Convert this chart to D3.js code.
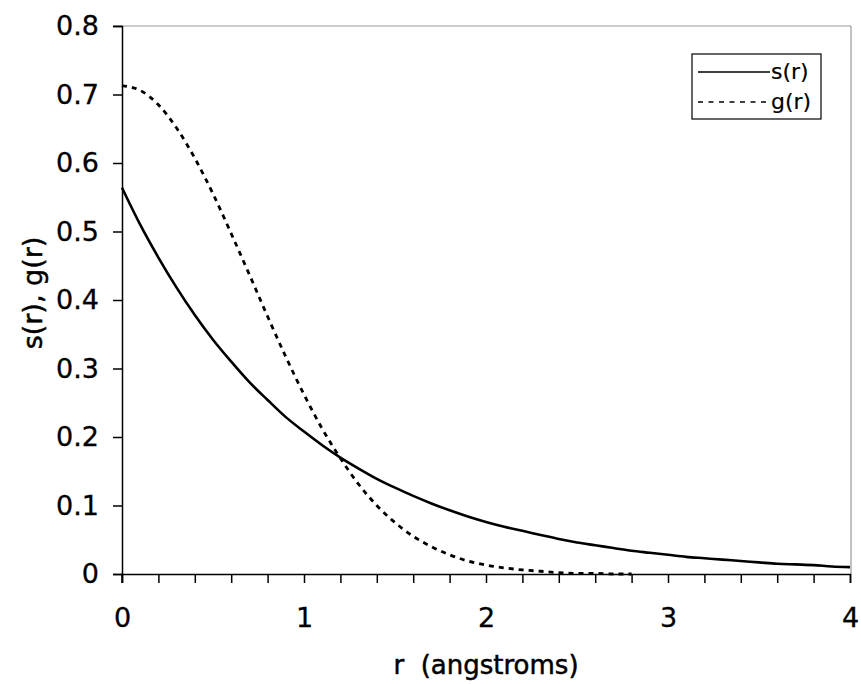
<!DOCTYPE html>
<html><head><meta charset="utf-8">
<script src="https://cdn.jsdelivr.net/npm/d3@7"></script>
<style>body{margin:0;background:#fff}</style>
</head><body>
<svg id="c" width="861" height="684"></svg>
<script>
const rS = [0,0.1,0.2,0.3,0.4,0.5,0.6,0.7,0.8,0.9,1.0,1.1,1.2,1.3,1.4,1.5,1.6,1.7,1.8,1.9,2.0,2.1,2.2,2.3,2.4,2.5,2.6,2.7,2.8,2.9,3.0,3.1,3.2,3.3,3.4,3.5,3.6,3.7,3.8,3.9,4.0];
const sVals = [0.564,0.510,0.462,0.418,0.378,0.342,0.310,0.280,0.254,0.229,0.208,0.188,0.170,0.154,0.139,0.126,0.114,0.103,0.093,0.084,0.076,0.069,0.063,0.057,0.051,0.046,0.042,0.038,0.034,0.031,0.028,0.025,0.023,0.021,0.019,0.017,0.015,0.014,0.013,0.011,0.010];
const rG = [0,0.1,0.2,0.3,0.4,0.5,0.6,0.7,0.8,0.9,1.0,1.1,1.2,1.3,1.4,1.5,1.6,1.7,1.8,1.9,2.0,2.1,2.2,2.3,2.4,2.5,2.6,2.7,2.8];
const gVals = [0.713,0.706,0.685,0.651,0.607,0.555,0.497,0.437,0.376,0.317,0.262,0.212,0.169,0.131,0.100,0.075,0.055,0.040,0.028,0.019,0.013,0.009,0.006,0.004,0.002,0.001,0.001,0.000,0.000];
const xTickLabels = [0,1,2,3,4];
const xMinorTicks = d3.range(0, 4.0001, 0.2);
const yTickLabels = [0,0.1,0.2,0.3,0.4,0.5,0.6,0.7,0.8];
const seriesNames = ["s(r)","g(r)"];

const svg = d3.select("#c");
const L = 122, R = 850, T = 26, B = 574;
const x = d3.scaleLinear().domain([0,4]).range([L,R]);
const y = d3.scaleLinear().domain([0,0.8]).range([B,T]);
const font = "DejaVu Sans, Verdana, sans-serif";

// frame (top and right, grey)
svg.append("line").attr("x1",113).attr("x2",R+1).attr("y1",T).attr("y2",T).attr("stroke","#999").attr("stroke-width",1.2);
svg.append("line").attr("x1",R+1).attr("x2",R+1).attr("y1",T).attr("y2",B).attr("stroke","#999").attr("stroke-width",1.2);

// axes
const yAxis = d3.axisLeft(y).tickValues(yTickLabels).tickSize(9).tickPadding(14)
  .tickFormat(d => d===0 ? "0" : d3.format(".1f")(d));
const gy = svg.append("g").attr("transform",`translate(${L},0)`).call(yAxis);
const xAxis = d3.axisBottom(x).tickValues(xMinorTicks).tickSize(9).tickPadding(25)
  .tickFormat(d => xTickLabels.some(v=>Math.abs(v-d)<1e-6) ? d3.format("d")(Math.round(d)) : "");
const gx = svg.append("g").attr("transform",`translate(0,${B})`).call(xAxis);
[gx,gy].forEach(g=>{
  g.select(".domain").attr("stroke","#000").attr("stroke-width",1.5);
  g.selectAll(".tick line").attr("stroke","#000").attr("stroke-width",1.5);
  g.selectAll(".tick text").attr("font-family",font).attr("font-size",27).attr("fill","#000")
    .attr("stroke","#000").attr("stroke-width",0.3);
});
svg.append("line").attr("x1",L).attr("x2",L).attr("y1",B).attr("y2",B+9).attr("stroke","#000").attr("stroke-width",1.5);

// lines
const line = d3.line().curve(d3.curveMonotoneX);
svg.append("path").attr("d", line(rS.map((r,i)=>[x(r),y(sVals[i])])))
  .attr("fill","none").attr("stroke","#000").attr("stroke-width",2.6);
svg.append("path").attr("d", line(rG.map((r,i)=>[x(r),y(gVals[i])])))
  .attr("fill","none").attr("stroke","#000").attr("stroke-width",2.8).attr("stroke-dasharray","5,5");

// axis titles
svg.append("text").attr("x",486).attr("y",674).attr("text-anchor","middle")
  .attr("font-family",font).attr("font-size",26).attr("xml:space","preserve")
  .attr("stroke","#000").attr("stroke-width",0.5)
  .text("r  (angstroms)");
svg.append("text").attr("transform",`translate(42,293) rotate(-90)`).attr("text-anchor","middle")
  .attr("font-family",font).attr("font-size",27)
  .attr("stroke","#000").attr("stroke-width",0.5)
  .text("s(r), g(r)");

// legend
const lg = svg.append("g");
lg.append("rect").attr("x",692).attr("y",54).attr("width",129).attr("height",65)
  .attr("fill","#fff").attr("stroke","#000").attr("stroke-width",1.2);
const dashes = [null,"5,5.5"];
seriesNames.forEach((n,i)=>{
  const yy = 72 + i*30;
  lg.append("line").attr("x1",698).attr("x2",770).attr("y1",yy).attr("y2",yy)
    .attr("stroke","#000").attr("stroke-width",1.6).attr("stroke-dasharray",dashes[i]);
  lg.append("text").attr("x",771).attr("y",yy+7).attr("font-family",font).attr("font-size",22)
    .attr("stroke","#000").attr("stroke-width",0.2).text(n);
});
</script>
</body></html>
